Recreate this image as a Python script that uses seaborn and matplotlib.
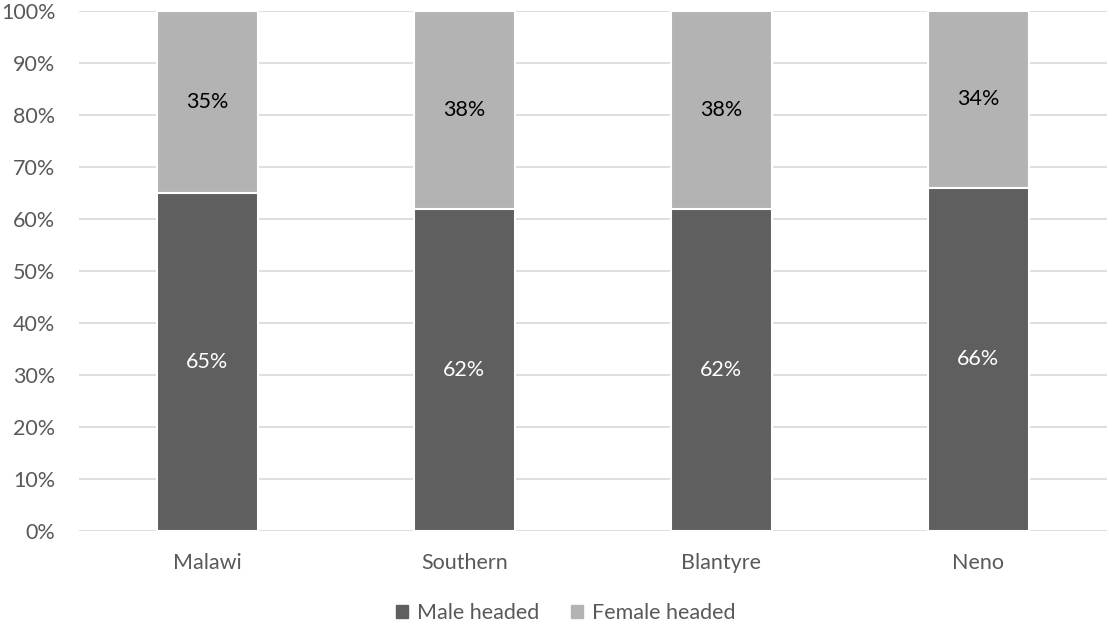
import matplotlib
matplotlib.use("Agg")
import matplotlib.pyplot as plt
import seaborn as sns
import pandas as pd
from matplotlib.ticker import PercentFormatter
from matplotlib.patches import Patch

regions = ["Malawi", "Southern", "Blantyre", "Neno"]
male_headed = [65, 62, 62, 66]
female_headed = [35, 38, 38, 34]

MALE_COLOR = "#5f5f5f"
FEMALE_COLOR = "#b3b3b3"
TEXT_COLOR = "#595959"
FS = 15.5

sns.set_theme(style="white")
plt.rcParams["font.family"] = ["Lato", "DejaVu Sans"]

df = pd.DataFrame({
    "region": regions,
    "male": male_headed,
    "female": female_headed,
})
df["total"] = df["male"] + df["female"]

fig = plt.figure(figsize=(11.09, 6.26), dpi=100)
ax = fig.add_axes([0.0712, 0.1518, 0.9268, 0.8306])

# Stacked bars: full height (female on top) then male segment drawn over it
sns.barplot(data=df, x="region", y="total", color=FEMALE_COLOR, width=0.395,
            edgecolor="white", linewidth=1.5, saturation=1, ax=ax, zorder=2)
sns.barplot(data=df, x="region", y="male", color=MALE_COLOR, width=0.395,
            edgecolor="white", linewidth=1.5, saturation=1, ax=ax, zorder=3)

for i, (m, f) in enumerate(zip(male_headed, female_headed)):
    ax.text(i, m / 2, f"{m}%", ha="center", va="center", color="white",
            fontsize=FS, zorder=4)
    ax.text(i, m + f / 2, f"{f}%", ha="center", va="center", color="black",
            fontsize=FS, zorder=4)

ax.set_ylim(0, 100)
ax.set_xlim(-0.5, len(regions) - 0.5)
ax.set_yticks(range(0, 101, 10))
ax.yaxis.set_major_formatter(PercentFormatter(decimals=0))
ax.grid(axis="y", color="#d9d9d9", linewidth=1.2, zorder=0)
ax.set_axisbelow(True)
for s in ax.spines.values():
    s.set_visible(False)
ax.set_xlabel("")
ax.set_ylabel("")
ax.tick_params(axis="both", length=0, labelsize=FS, colors=TEXT_COLOR)
ax.tick_params(axis="y", pad=17)
ax.tick_params(axis="x", pad=16)

handles = [Patch(color=MALE_COLOR, label="Male headed"),
           Patch(color=FEMALE_COLOR, label="Female headed")]
fig.legend(handles=handles, loc="center", bbox_to_anchor=(0.51, 0.021),
           ncol=2, frameon=False, fontsize=FS, labelcolor=TEXT_COLOR,
           handlelength=0.55, handleheight=0.55, handletextpad=0.4,
           columnspacing=1.5)

fig.savefig("out.png", dpi=100)
